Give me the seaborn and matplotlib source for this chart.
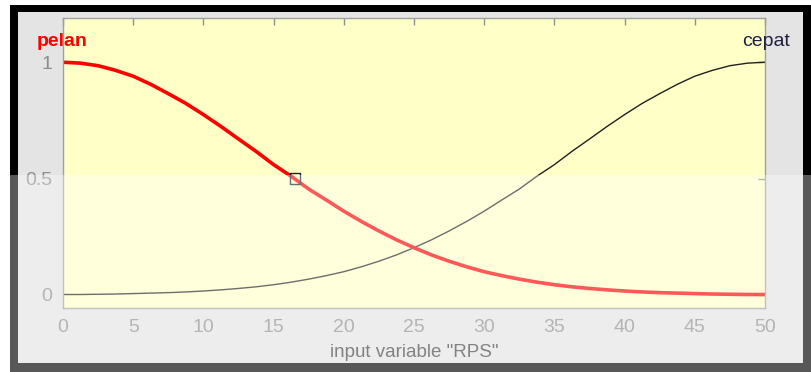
import matplotlib
matplotlib.use("Agg")
import matplotlib.pyplot as plt
import seaborn as sns
from matplotlib.patches import Rectangle

# ---- data ----
rps = [0, 1.25, 2.5, 3.75, 5, 6.25, 7.5, 8.75, 10, 11.25, 12.5, 13.75, 15,
       16.25, 17.5, 18.75, 20, 21.25, 22.5, 23.75, 25, 26.25, 27.5, 28.75,
       30, 31.25, 32.5, 33.75, 35, 36.25, 37.5, 38.75, 40, 41.25, 42.5,
       43.75, 45, 46.25, 47.5, 48.75, 50]
pelan = [1.00, 0.996, 0.985, 0.965, 0.94, 0.905, 0.865, 0.823, 0.775, 0.724,
         0.67, 0.617, 0.56, 0.51, 0.455, 0.408, 0.36, 0.316, 0.275, 0.237,
         0.203, 0.172, 0.145, 0.121, 0.10, 0.083, 0.068, 0.055, 0.044, 0.035,
         0.028, 0.022, 0.017, 0.013, 0.010, 0.008, 0.006, 0.004, 0.003,
         0.002, 0.002]
cepat = pelan[::-1]
sel_x = [16.5]
sel_y = [0.5]
xticks = [0, 5, 10, 15, 20, 25, 30, 35, 40, 45, 50]
yticks = [0, 0.5, 1]
ytick_labels = ["0", "0.5", "1"]
xlabel = 'input variable "RPS"'

W, H = 811, 372
sns.set_style("white")
plt.rcParams['font.family'] = ['Liberation Sans', 'DejaVu Sans']
fig = plt.figure(figsize=(W / 100, H / 100), dpi=100, facecolor="white")

def frac_rect(x0, y0, x1, y1, **kw):
    # pixel coords (top-left origin) to figure fraction
    r = Rectangle((x0 / W, 1 - y1 / H), (x1 - x0) / W, (y1 - y0) / H,
                  transform=fig.transFigure, **kw)
    fig.add_artist(r)
    return r

# screenshot frame
frac_rect(10, 5, 811, 372, facecolor="black", edgecolor="none", zorder=0)
frac_rect(18, 12, 803, 363, facecolor="#e4e4e4", edgecolor="none", zorder=0.1)

ax = fig.add_axes([63 / W, 1 - 308 / H, (765 - 63) / W, (308 - 18) / H])
ax.set_facecolor("#ffffc8")
ax.set_zorder(1)

sns.lineplot(x=rps, y=cepat, ax=ax, color="#202020", linewidth=1.0)
sns.lineplot(x=rps, y=pelan, ax=ax, color="#ff0000", linewidth=2.6)
sns.scatterplot(x=sel_x, y=sel_y, ax=ax, marker="s", s=55,
                facecolor="none", edgecolor="#202020", linewidth=1.0, zorder=5)

ax.set_xlim(0, 50)
ax.set_ylim(-0.056, 1.19)
ax.set_xticks(xticks)
ax.set_yticks(yticks)
ax.set_yticklabels(ytick_labels)
ax.tick_params(direction="in", length=5, width=1, color="#909090",
               labelcolor="#8c8c8c", labelsize=14, top=True, right=True,
               pad=8)
for s in ax.spines.values():
    s.set_color("#a0a0a0")
    s.set_linewidth(1.0)
ax.set_xlabel(xlabel, fontsize=13.5, color="#404040", labelpad=6)
ax.set_ylabel("")

fig.text(37 / W, 1 - 42 / H, "pelan", color="#ff0000", fontsize=14,
         fontweight="bold", va="center", ha="left")
fig.text(790 / W, 1 - 42 / H, "cepat", color="#202040", fontsize=14,
         va="center", ha="right", zorder=5)

# watermark-style whitish overlay on lower part of the screenshot
frac_rect(0, 175, 811, 372, facecolor="white", edgecolor="none",
          alpha=0.35, zorder=10)

fig.savefig("out.png", dpi=100, facecolor="white")
